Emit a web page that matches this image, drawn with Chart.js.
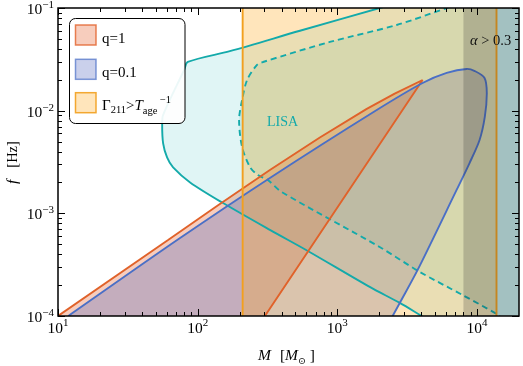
<!DOCTYPE html>
<html>
<head>
<meta charset="utf-8">
<script src="https://cdn.jsdelivr.net/npm/chart.js@4.4.0/dist/chart.umd.min.js"></script>
<style>
  html, body { margin: 0; padding: 0; background: #fff; }
  #wrap { position: relative; width: 523px; height: 366px; }
</style>
</head>
<body>
<div id="wrap"><canvas id="c"></canvas></div>
<script>
// axis ranges and tick labels (log axes)
const xRange = [10, 2e4];
const yRange = [1e-4, 1e-1];
const xMajor = [10, 100, 1000, 10000];
const xExp = ['1', '2', '3', '4'];
const yMajor = [1e-4, 1e-3, 1e-2, 1e-1];
const yExp = ['\u22124', '\u22123', '\u22122', '\u22121'];

// Gamma_211 > 1/T_age band (M range)
const ageBandM = [210, 13800];
// alpha > 0.3 region starts here
const alphaM = 8000;

// LISA sensitivity region (solid), closed through points outside the view
const lisaM = [1e6, 3160, 2010, 540, 170, 85, 80, 56.6, 55.7, 56.6, 60.4, 66.7, 88.3, 152, 329, 615, 1706, 2800, 4020, 5000, 1e6];
const lisaF = [10, 0.119, 0.1, 0.06, 0.038, 0.0298, 0.0249, 0.0091, 0.0073, 0.0048, 0.0035, 0.0028, 0.002, 0.00126, 6.9e-4, 4.3e-4, 1.92e-4, 1.34e-4, 1e-4, 8.4e-5, 8.4e-5];

// second LISA contour (dashed)
const dashM = [1e6, 1e4, 6070, 2660, 884, 294, 266, 226, 208, 198, 208, 237, 270, 318, 401, 2010, 3890, 7890, 13800, 15700, 1e6];
const dashF = [10, 0.126, 0.1, 0.0683, 0.0467, 0.0298, 0.0279, 0.0199, 0.0127, 0.0081, 0.00443, 0.00282, 0.00236, 0.00211, 0.00161, 4.7e-4, 2.69e-4, 1.6e-4, 1.05e-4, 9.35e-5, 9.35e-5];

// q = 1 region
const q1M = [10, 61.4, 140, 329, 750, 1625, 2576, 4080, 303];
const q1F = [1e-4, 5.49e-4, 1.2e-3, 2.64e-3, 5.48e-3, 0.0104, 0.01466, 0.0199, 1e-4];

// q = 0.1 region
const q01M = [11.85, 71.3, 329, 1916, 4080, 6070, 8430, 9650, 11330, 11760, 11380, 10440, 8850, 7150, 3760, 2800, 2490];
const q01F = [1e-4, 5.49e-4, 2.21e-3, 0.01015, 0.0186, 0.0233, 0.0255, 0.0243, 0.0208, 0.01486, 0.00868, 0.00518, 0.00309, 0.00169, 2.81e-4, 1.34e-4, 1e-4];

const zip = (a, b) => a.map((v, i) => ({ x: v, y: b[i] }));

const C = {
  orange: '#F2A01E', orangeFill: 'rgba(255,170,30,0.30)',
  q1: '#E0622A', q1Fill: 'rgba(230,100,50,0.32)',
  q01: '#4A6FC6', q01Fill: 'rgba(80,100,190,0.30)',
  lisa: '#14AAAA', lisaFill: 'rgba(0,175,175,0.12)',
  grey: 'rgba(40,40,40,0.22)'
};

const serif = '"Liberation Serif", "DejaVu Serif", serif';

function drawRich(ctx, x, y, parts) {
  // parts: [text, size, dy, italic, extraGap]
  parts.forEach(p => {
    ctx.font = (p[3] ? 'italic ' : '') + p[1] + 'px ' + serif;
    ctx.fillText(p[0], x, y + p[2]);
    x += ctx.measureText(p[0]).width + (p[4] || 0);
  });
  return x;
}

const decor = {
  id: 'decor',
  afterDatasetsDraw(chart) {
    const { ctx, chartArea: a, scales: { x } } = chart;
    const px = x.getPixelForValue(alphaM);
    ctx.save();
    ctx.fillStyle = C.grey;
    ctx.fillRect(px, a.top, a.right - px, a.bottom - a.top);
    ctx.restore();
  },
  afterDraw(chart) {
    const { ctx, chartArea: a, scales: { x, y } } = chart;
    ctx.save();
    ctx.textBaseline = 'alphabetic';

    // in-plot labels
    ctx.fillStyle = C.lisa;
    drawRich(ctx, 267, 126, [['LISA', 14, 0]]);
    ctx.fillStyle = '#111';
    drawRich(ctx, 470, 45, [['\u03b1', 14.5, 0, true], [' > 0.3', 14.5, 0]]);

    // ticks, inward on all four sides
    ctx.strokeStyle = '#000';
    ctx.lineWidth = 1;
    ctx.beginPath();
    xMajor.forEach(m => {
      for (let k = 1; k <= 9; k++) {
        const v = m * k;
        if (v >= xRange[1]) continue;
        const p = Math.round(x.getPixelForValue(v)) + 0.5;
        const len = k === 1 ? 7 : 4;
        ctx.moveTo(p, a.bottom); ctx.lineTo(p, a.bottom - len);
        ctx.moveTo(p, a.top); ctx.lineTo(p, a.top + len);
      }
    });
    yMajor.forEach(m => {
      for (let k = 1; k <= 9; k++) {
        const v = m * k;
        if (v > yRange[1] * 1.0001) continue;
        const p = Math.round(y.getPixelForValue(v)) + 0.5;
        const len = k === 1 ? 7 : 4;
        ctx.moveTo(a.left, p); ctx.lineTo(a.left + len, p);
        ctx.moveTo(a.right, p); ctx.lineTo(a.right - len, p);
      }
    });
    ctx.stroke();

    // frame
    ctx.lineWidth = 1.5;
    ctx.strokeRect(a.left, a.top, a.right - a.left, a.bottom - a.top);

    // tick labels
    ctx.fillStyle = '#000';
    const tSize = 15.5, sSize = 11;
    xMajor.forEach((v, i) => {
      const p = x.getPixelForValue(v);
      ctx.font = tSize + 'px ' + serif;
      const w1 = ctx.measureText('10').width;
      ctx.font = sSize + 'px ' + serif;
      const w2 = ctx.measureText(xExp[i]).width;
      drawRich(ctx, p - (w1 + w2) / 2, a.bottom + 17, [['10', tSize, 0], [xExp[i], sSize, -7]]);
    });
    yMajor.forEach((v, i) => {
      const p = y.getPixelForValue(v);
      ctx.font = tSize + 'px ' + serif;
      const w1 = ctx.measureText('10').width;
      ctx.font = sSize + 'px ' + serif;
      const w2 = ctx.measureText(yExp[i]).width;
      drawRich(ctx, 54 - w1 - w2, p + 6, [['10', tSize, 0], [yExp[i], sSize, -6]]);
    });

    // axis titles
    drawRich(ctx, 258, 360, [['M', 15.5, 0, true, 9], ['[', 15.5, 0], ['M', 15.5, 0, true], ['\u2299', 9.5, 4], [' ]', 15.5, 0]]);
    ctx.save();
    ctx.translate(17, 184);
    ctx.rotate(-Math.PI / 2);
    drawRich(ctx, 0, 0, [['f', 15.5, 0, true, 12], ['[Hz]', 14.5, 0]]);
    ctx.restore();

    // legend
    const lx = 69.5, ly = 18.5, lw = 115.5, lh = 105;
    ctx.beginPath();
    ctx.roundRect(lx, ly, lw, lh, 6);
    ctx.fillStyle = 'rgba(255,255,255,0.92)';
    ctx.fill();
    ctx.strokeStyle = '#000';
    ctx.lineWidth = 1;
    ctx.stroke();

    const patches = [
      [C.q1Fill, 'rgba(226,98,42,0.8)'],
      [C.q01Fill, 'rgba(74,111,198,0.7)'],
      [C.orangeFill, 'rgba(242,160,30,0.9)']
    ];
    const rows = [25, 59.3, 92.7];
    patches.forEach((pc, i) => {
      ctx.fillStyle = pc[0];
      ctx.fillRect(75.5, rows[i], 20.5, 20);
      ctx.strokeStyle = pc[1];
      ctx.lineWidth = 1.5;
      ctx.strokeRect(75.5, rows[i], 20.5, 20);
    });
    ctx.fillStyle = '#000';
    const lSize = 15;
    drawRich(ctx, 102, 43, [['q=1', lSize, 0]]);
    drawRich(ctx, 102, 77, [['q=0.1', lSize, 0]]);
    drawRich(ctx, 102, 110, [['\u0393', lSize, 0], ['211', 10.5, 3], ['>', lSize, 0], ['T', lSize, 0, true], ['age', 10.5, 3.5, false, 2.5], ['\u22121', 10.5, -7.5]]);

    ctx.restore();
  }
};

const base = { pointRadius: 0, borderWidth: 1.9, tension: 0, capBezierPoints: false, clip: 0 };

new Chart(document.getElementById('c'), {
  type: 'line',
  data: {
    datasets: [
      Object.assign({}, base, {
        label: 'LISA', order: 10, tension: 0.3,
        data: zip(lisaM, lisaF),
        borderColor: C.lisa, backgroundColor: C.lisaFill, fill: 'shape'
      }),
      Object.assign({}, base, {
        label: 'LISA2', order: 9, tension: 0.3,
        data: zip(dashM, dashF),
        borderColor: C.lisa, backgroundColor: C.lisaFill, fill: 'shape',
        borderDash: [6, 4]
      }),
      Object.assign({}, base, {
        label: 'q=1', order: 8, borderJoinStyle: 'bevel',
        data: zip(q1M, q1F),
        borderColor: C.q1, backgroundColor: C.q1Fill, fill: 'shape'
      }),
      Object.assign({}, base, {
        label: 'q=0.1', order: 7, tension: 0.3,
        data: zip(q01M, q01F),
        borderColor: C.q01, backgroundColor: C.q01Fill, fill: 'shape'
      }),
      Object.assign({}, base, {
        label: 'age', order: 6,
        data: zip([ageBandM[1], ageBandM[0], ageBandM[0], ageBandM[1], ageBandM[1]], [1e-6, 1e-6, 10, 10, 1e-6]),
        borderColor: C.orange, backgroundColor: C.orangeFill, fill: 'shape'
      })
    ]
  },
  options: {
    responsive: true,
    maintainAspectRatio: false,
    animation: false,
    layout: { padding: { top: 8, right: 4, left: 0, bottom: 0 } },
    plugins: {
      legend: { display: false },
      tooltip: { enabled: false },
      filler: { drawTime: 'beforeDatasetsDraw' }
    },
    scales: {
      x: {
        type: 'logarithmic', min: xRange[0], max: xRange[1],
        grid: { display: false }, border: { display: false }, ticks: { display: false },
        afterFit: s => { s.height = 50; }
      },
      y: {
        type: 'logarithmic', min: yRange[0], max: yRange[1],
        grid: { display: false }, border: { display: false }, ticks: { display: false },
        afterFit: s => { s.width = 58; }
      }
    }
  },
  plugins: [decor]
});
</script>
</body>
</html>
